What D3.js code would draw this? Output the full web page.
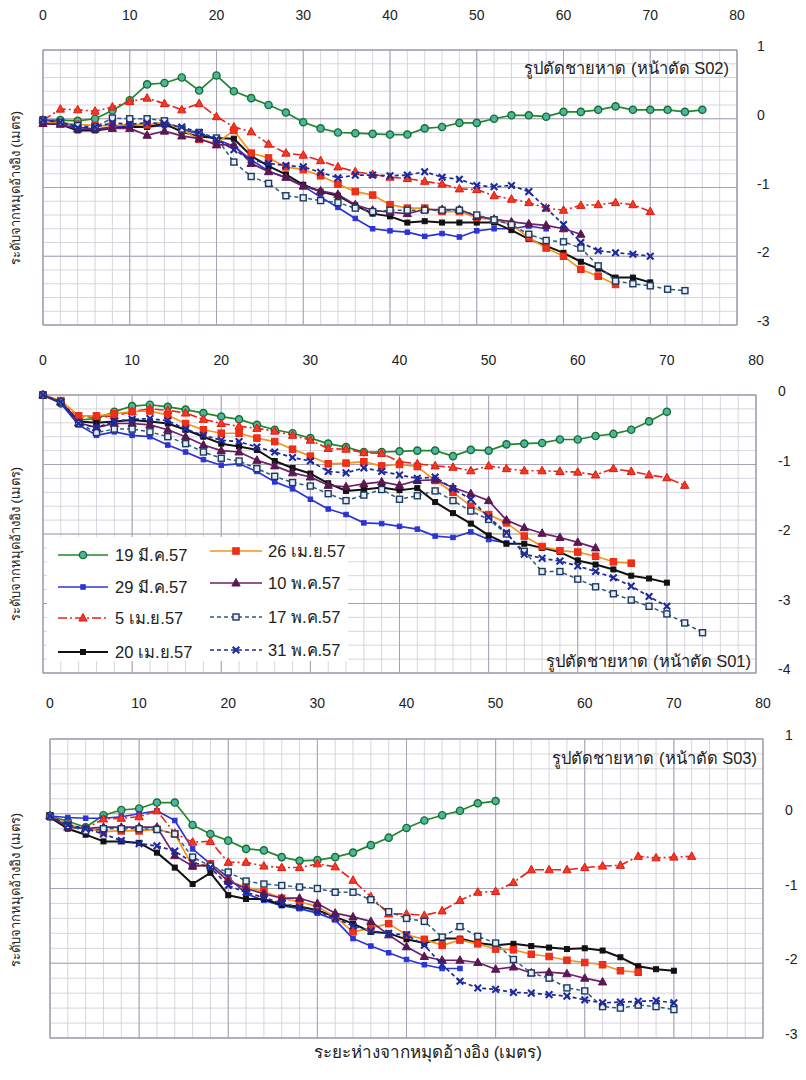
<!DOCTYPE html>
<html><head><meta charset="utf-8">
<script src="https://cdn.jsdelivr.net/npm/d3@7"></script>
<style>body{margin:0;background:#fff}text{font-family:"Liberation Sans",Arial,"Noto Sans",sans-serif}</style>
</head><body><svg id="c" width="806" height="1080"></svg>
<script>
// ---------------- DATA ----------------
const dist = [0,2,4,6,8,10,12,14,16,18,20,22,24,26,28,30,32,34,36,38,40,42,44,46,48,50,52,54,56,58,60,62,64,66,68,70,72,74,76];
const xTicks = [0,10,20,30,40,50,60,70,80];
const yTicksS02 = [1,0,-1,-2,-3];
const yTicksS01 = [0,-1,-2,-3,-4];
const yTicksS03 = [1,0,-1,-2,-3];
const seriesNames = ["19 มี.ค.57","29 มี.ค.57","5 เม.ย.57","20 เม.ย.57","26 เม.ย.57","10 พ.ค.57","17 พ.ค.57","31 พ.ค.57"];

// S02 profiles (elevation in m at each distance in dist)
const s02_19mar = [-0.02,-0.02,-0.03,0.0,0.12,0.27,0.5,0.52,0.6,0.41,0.63,0.4,0.3,0.2,0.09,-0.05,-0.14,-0.2,-0.21,-0.22,-0.23,-0.23,-0.14,-0.12,-0.06,-0.06,0.0,0.05,0.05,0.03,0.1,0.1,0.13,0.18,0.13,0.13,0.13,0.1,0.13];
const s02_29mar = [-0.02,-0.05,-0.12,-0.15,-0.12,-0.1,-0.12,-0.1,-0.15,-0.22,-0.3,-0.4,-0.6,-0.76,-0.86,-0.98,-1.14,-1.29,-1.45,-1.6,-1.63,-1.65,-1.71,-1.67,-1.72,-1.63,-1.6,-1.6,-1.56,-1.6];
const s02_05apr = [-0.02,0.14,0.13,0.11,0.17,0.25,0.3,0.22,0.13,0.22,0.03,-0.12,-0.19,-0.37,-0.5,-0.53,-0.61,-0.7,-0.77,-0.81,-0.85,-0.87,-0.91,-0.95,-1.02,-1.03,-1.12,-1.17,-1.22,-1.3,-1.33,-1.26,-1.25,-1.22,-1.25,-1.35];
const s02_20apr = [-0.07,-0.08,-0.17,-0.17,-0.14,-0.12,-0.12,-0.07,-0.19,-0.26,-0.28,-0.29,-0.54,-0.69,-0.81,-0.96,-1.06,-1.12,-1.26,-1.38,-1.42,-1.51,-1.49,-1.51,-1.51,-1.51,-1.51,-1.62,-1.75,-1.85,-1.95,-2.08,-2.18,-2.31,-2.31,-2.38];
const s02_26apr = [-0.05,-0.06,-0.08,-0.1,-0.1,-0.08,-0.09,-0.05,-0.16,-0.3,-0.36,-0.17,-0.5,-0.57,-0.7,-0.74,-0.83,-0.95,-1.06,-1.11,-1.25,-1.3,-1.3,-1.35,-1.35,-1.44,-1.47,-1.54,-1.73,-1.88,-2.0,-2.19,-2.29,-2.41];
const s02_10may = [-0.07,-0.08,-0.15,-0.15,-0.14,-0.14,-0.24,-0.18,-0.25,-0.29,-0.38,-0.38,-0.65,-0.77,-0.85,-0.98,-1.05,-1.1,-1.25,-1.33,-1.36,-1.38,-1.32,-1.32,-1.32,-1.42,-1.46,-1.5,-1.53,-1.55,-1.6,-1.68];
const s02_17may = [-0.02,-0.05,-0.1,-0.12,0.01,0.0,0.0,-0.03,-0.15,-0.2,-0.28,-0.63,-0.84,-0.94,-1.12,-1.15,-1.19,-1.22,-1.3,-1.35,-1.33,-1.33,-1.33,-1.33,-1.33,-1.4,-1.47,-1.54,-1.68,-1.77,-1.79,-1.88,-2.14,-2.36,-2.4,-2.43,-2.48,-2.5];
const s02_31may = [-0.02,-0.05,-0.13,-0.12,-0.06,-0.08,-0.06,-0.07,-0.12,-0.2,-0.3,-0.45,-0.6,-0.65,-0.68,-0.7,-0.78,-0.86,-0.82,-0.82,-0.83,-0.82,-0.77,-0.85,-0.88,-0.97,-0.99,-0.97,-1.06,-1.3,-1.54,-1.8,-1.92,-1.95,-1.97,-2.0];

// S01 profiles
const s01_19mar = [0,-0.12,-0.36,-0.34,-0.24,-0.16,-0.14,-0.17,-0.21,-0.26,-0.31,-0.35,-0.43,-0.5,-0.55,-0.62,-0.7,-0.75,-0.82,-0.82,-0.81,-0.8,-0.8,-0.88,-0.79,-0.8,-0.71,-0.7,-0.69,-0.64,-0.64,-0.59,-0.56,-0.5,-0.38,-0.24];
const s01_29mar = [0,-0.12,-0.43,-0.58,-0.53,-0.58,-0.6,-0.72,-0.82,-0.93,-1.01,-0.99,-1.1,-1.25,-1.35,-1.5,-1.64,-1.72,-1.84,-1.85,-1.89,-1.93,-2.03,-2.05,-1.97,-2.08,-2.13];
const s01_05apr = [0,-0.1,-0.31,-0.32,-0.3,-0.24,-0.2,-0.22,-0.26,-0.35,-0.41,-0.45,-0.48,-0.52,-0.58,-0.65,-0.77,-0.78,-0.83,-0.84,-0.96,-0.99,-1.02,-1.04,-1.09,-1.02,-1.06,-1.09,-1.09,-1.1,-1.11,-1.15,-1.06,-1.1,-1.15,-1.19,-1.3];
const s01_20apr = [0,-0.1,-0.38,-0.4,-0.38,-0.36,-0.38,-0.41,-0.5,-0.6,-0.7,-0.74,-0.79,-0.95,-1.05,-1.13,-1.27,-1.38,-1.36,-1.33,-1.37,-1.34,-1.54,-1.7,-1.85,-2.02,-2.14,-2.14,-2.2,-2.26,-2.38,-2.44,-2.51,-2.6,-2.64,-2.7];
const s01_26apr = [0,-0.08,-0.3,-0.3,-0.27,-0.24,-0.23,-0.29,-0.41,-0.5,-0.55,-0.55,-0.62,-0.67,-0.78,-0.88,-0.99,-0.98,-0.96,-1.02,-1.0,-1.03,-1.23,-1.4,-1.6,-1.72,-1.84,-2.03,-2.18,-2.24,-2.26,-2.32,-2.4,-2.42];
const s01_10may = [0,-0.1,-0.4,-0.47,-0.41,-0.41,-0.43,-0.5,-0.6,-0.72,-0.8,-0.82,-0.94,-1.02,-1.12,-1.18,-1.3,-1.32,-1.28,-1.25,-1.3,-1.23,-1.22,-1.33,-1.42,-1.52,-1.8,-1.91,-1.99,-2.05,-2.12,-2.2];
const s01_17may = [0,-0.1,-0.41,-0.54,-0.49,-0.49,-0.53,-0.6,-0.7,-0.82,-0.91,-0.95,-1.06,-1.17,-1.26,-1.31,-1.42,-1.52,-1.44,-1.36,-1.5,-1.45,-1.38,-1.52,-1.67,-1.79,-2.0,-2.25,-2.54,-2.54,-2.65,-2.76,-2.86,-2.95,-3.04,-3.15,-3.28,-3.42];
const s01_31may = [0,-0.1,-0.41,-0.47,-0.38,-0.35,-0.34,-0.37,-0.49,-0.58,-0.65,-0.67,-0.75,-0.82,-0.9,-0.95,-1.1,-1.12,-1.05,-1.1,-1.15,-1.2,-1.18,-1.35,-1.5,-1.76,-1.98,-2.29,-2.35,-2.39,-2.46,-2.54,-2.63,-2.75,-2.9,-3.04];

// S03 profiles
const s03_19mar = [-0.03,-0.1,-0.18,-0.02,0.05,0.07,0.15,0.15,-0.15,-0.27,-0.36,-0.47,-0.49,-0.58,-0.63,-0.62,-0.58,-0.52,-0.42,-0.32,-0.19,-0.09,-0.02,0.04,0.14,0.17];
const s03_29mar = [-0.03,-0.05,-0.06,-0.06,-0.04,0.0,0.04,-0.09,-0.47,-0.67,-0.85,-1.07,-1.16,-1.23,-1.27,-1.33,-1.42,-1.67,-1.77,-1.86,-1.95,-2.02,-2.07,-2.07];
const s03_05apr = [-0.03,-0.14,-0.2,-0.07,-0.06,-0.04,0.04,-0.26,-0.38,-0.37,-0.65,-0.65,-0.7,-0.72,-0.72,-0.67,-0.71,-0.89,-1.11,-1.34,-1.34,-1.36,-1.3,-1.16,-1.05,-1.04,-0.92,-0.75,-0.75,-0.75,-0.72,-0.7,-0.69,-0.57,-0.59,-0.58,-0.57];
const s03_20apr = [-0.05,-0.2,-0.28,-0.37,-0.37,-0.39,-0.52,-0.72,-0.94,-0.79,-1.09,-1.14,-1.14,-1.22,-1.24,-1.29,-1.38,-1.47,-1.58,-1.6,-1.68,-1.73,-1.67,-1.67,-1.73,-1.76,-1.74,-1.77,-1.79,-1.81,-1.8,-1.83,-1.92,-2.04,-2.08,-2.1];
const s03_26apr = [-0.03,-0.15,-0.2,-0.24,-0.23,-0.23,-0.21,-0.27,-0.7,-0.67,-0.9,-0.98,-1.04,-1.13,-1.18,-1.24,-1.38,-1.58,-1.53,-1.47,-1.62,-1.68,-1.76,-1.69,-1.74,-1.81,-1.82,-1.88,-1.91,-1.96,-1.99,-2.02,-2.1,-2.12];
const s03_10may = [-0.03,-0.18,-0.2,-0.18,-0.18,-0.18,-0.18,-0.56,-0.7,-0.69,-0.9,-1.0,-1.07,-1.13,-1.13,-1.2,-1.33,-1.38,-1.44,-1.62,-1.78,-1.91,-1.96,-1.96,-1.99,-2.08,-2.05,-2.13,-2.12,-2.14,-2.2,-2.25];
const s03_17may = [-0.03,-0.16,-0.23,-0.2,-0.2,-0.2,-0.21,-0.27,-0.58,-0.7,-0.78,-0.9,-0.94,-0.96,-0.98,-1.0,-1.05,-1.05,-1.15,-1.31,-1.4,-1.44,-1.65,-1.51,-1.64,-1.73,-1.95,-2.13,-2.2,-2.33,-2.37,-2.58,-2.6,-2.56,-2.58,-2.62];
const s03_31may = [-0.03,-0.15,-0.2,-0.27,-0.36,-0.4,-0.43,-0.5,-0.65,-0.72,-0.96,-1.05,-1.12,-1.2,-1.25,-1.3,-1.4,-1.5,-1.57,-1.6,-1.62,-1.76,-2.02,-2.24,-2.33,-2.35,-2.39,-2.4,-2.42,-2.44,-2.49,-2.53,-2.52,-2.51,-2.5,-2.53];

// ---------------- STYLES ----------------
const styles = [
  {stroke:"#1f8a2c", w:1.7, dash:null,      marker:"circle",  mfill:"#4fb3a4", mstroke:"#16702a"},
  {stroke:"#2b35d6", w:1.7, dash:null,      marker:"square",  mfill:"#2b35d6", mstroke:"#2b35d6", ms:4.5},
  {stroke:"#e8231b", w:1.6, dash:"9,3,2,3", marker:"triangle",mfill:"#f03a25", mstroke:"#e01a10"},
  {stroke:"#111111", w:2.0, dash:null,      marker:"square",  mfill:"#111111", mstroke:"#111111", ms:5},
  {stroke:"#f5921c", w:1.7, dash:null,      marker:"square",  mfill:"#f0301a", mstroke:"#e82a10", ms:6.5},
  {stroke:"#6e1f6e", w:1.7, dash:null,      marker:"triangle",mfill:"#5a1850", mstroke:"#5a1850"},
  {stroke:"#2c5c7c", w:1.5, dash:"4,3",     marker:"hsquare", mfill:"#e6ecf4", mstroke:"#1d3a5c", ms:6},
  {stroke:"#1d2a9c", w:1.7, dash:"4,3",     marker:"cross",   mfill:"#1d2a9c", mstroke:"#1d2a9c"}
];

const panels = [
  {series:[s02_19mar,s02_29mar,s02_05apr,s02_20apr,s02_26apr,s02_10may,s02_17may,s02_31may], yTicks:yTicksS02,
   x0:43, x1:737, y0:50, y1:325, xlabY:20, ylabX:757, title:"รูปตัดชายหาด (หน้าตัด S02)", tx:729, ty:74, ytc:188},
  {series:[s01_19mar,s01_29mar,s01_05apr,s01_20apr,s01_26apr,s01_10may,s01_17may,s01_31may], yTicks:yTicksS01,
   x0:43, x1:756, y0:395, y1:673, xlabY:365, ylabX:778, title:"รูปตัดชายหาด (หน้าตัด S01)", tx:751, ty:667, ytc:544, legend:true},
  {series:[s03_19mar,s03_29mar,s03_05apr,s03_20apr,s03_26apr,s03_10may,s03_17may,s03_31may], yTicks:yTicksS03,
   x0:50, x1:763, y0:739, y1:1038, xlabY:708, ylabX:785, title:"รูปตัดชายหาด (หน้าตัด S03)", tx:757, ty:764, ytc:890}
];

const svg = d3.select("#c");
svg.append("rect").attr("width",806).attr("height",1080).attr("fill","#fff");

function marker(g, st, x, y) {
  const s = st.ms || 6;
  if (st.marker === "circle") {
    g.append("circle").attr("cx",x).attr("cy",y).attr("r",3.6).attr("fill",st.mfill).attr("stroke",st.mstroke).attr("stroke-width",1.4);
  } else if (st.marker === "square" || st.marker === "hsquare") {
    g.append("rect").attr("x",x-s/2).attr("y",y-s/2).attr("width",s).attr("height",s)
      .attr("fill",st.mfill).attr("stroke",st.mstroke).attr("stroke-width",st.marker==="hsquare"?1.4:1);
  } else if (st.marker === "triangle") {
    const h = 7.5;
    g.append("path").attr("d",`M${x},${y-h*0.6}L${x+h*0.55},${y+h*0.4}L${x-h*0.55},${y+h*0.4}Z`)
      .attr("fill",st.mfill).attr("stroke",st.mstroke).attr("stroke-width",1);
  } else if (st.marker === "cross") {
    const r = 3.3;
    g.append("path").attr("d",`M${x-r},${y-r}L${x+r},${y+r}M${x-r},${y+r}L${x+r},${y-r}`)
      .attr("stroke",st.mstroke).attr("stroke-width",2.1);
  }
}

panels.forEach(p => {
  const xs = d3.scaleLinear().domain([0,80]).range([p.x0,p.x1]);
  const yd = [d3.max(p.yTicks), d3.min(p.yTicks)];
  const ys = d3.scaleLinear().domain(yd).range([p.y0,p.y1]);
  const g = svg.append("g");

  // grid
  const minorX = d3.range(0,80.01,2), minorY = d3.range(yd[1], yd[0]+0.001, 0.2);
  g.selectAll(null).data(minorX).enter().append("line")
    .attr("x1",d=>xs(d)).attr("x2",d=>xs(d)).attr("y1",p.y0).attr("y2",p.y1)
    .attr("stroke","#d3d0db").attr("stroke-width",0.9);
  g.selectAll(null).data(minorY).enter().append("line")
    .attr("y1",d=>ys(d)).attr("y2",d=>ys(d)).attr("x1",p.x0).attr("x2",p.x1)
    .attr("stroke","#d3d0db").attr("stroke-width",0.9);
  g.selectAll(null).data(xTicks).enter().append("line")
    .attr("x1",d=>xs(d)).attr("x2",d=>xs(d)).attr("y1",p.y0).attr("y2",p.y1)
    .attr("stroke","#a7a2b4").attr("stroke-width",1);
  g.selectAll(null).data(p.yTicks).enter().append("line")
    .attr("y1",d=>ys(d)).attr("y2",d=>ys(d)).attr("x1",p.x0).attr("x2",p.x1)
    .attr("stroke","#a7a2b4").attr("stroke-width",1);
  g.append("rect").attr("x",p.x0).attr("y",p.y0).attr("width",p.x1-p.x0).attr("height",p.y1-p.y0)
    .attr("fill","none").attr("stroke","#9d99a9").attr("stroke-width",1);

  // x tick labels (top)
  svg.append("g").selectAll(null).data(xTicks).enter().append("text")
    .attr("x",d=>xs(d)).attr("y",p.xlabY).attr("text-anchor","middle")
    .attr("font-size",14).attr("fill","#222").text(d=>d);
  // y tick labels (right)
  svg.append("g").selectAll(null).data(p.yTicks).enter().append("text")
    .attr("x",p.ylabX).attr("y",d=>ys(d)+1).attr("text-anchor","start")
    .attr("font-size",14).attr("fill","#222").text(d=>String(d));

  // y title
  svg.append("text").attr("transform",`translate(20,${p.ytc}) rotate(-90)`).attr("text-anchor","middle")
    .attr("font-size",13).attr("fill","#222").text("ระดับจากหมุดอ้างอิง (เมตร)");

  // legend background (panel S01)
  if (p.legend) {
    svg.append("rect").attr("x",47).attr("y",537).attr("width",301).attr("height",124).attr("fill","#fff");
  }

  // series
  const line = d3.line().x(d=>xs(d[0])).y(d=>ys(d[1]));
  p.series.forEach((vals, si) => {
    const st = styles[si];
    const pts = vals.map((v,i)=>[dist[i], v]);
    const sg = svg.append("g");
    sg.append("path").attr("d",line(pts)).attr("fill","none").attr("stroke",st.stroke)
      .attr("stroke-width",st.w).attr("stroke-dasharray",st.dash).attr("stroke-linejoin","round");
    pts.forEach(d => marker(sg, st, xs(d[0]), ys(d[1])));
  });

  // title
  svg.append("text").attr("x",p.tx).attr("y",p.ty).attr("text-anchor","end").attr("font-size",16.5)
    .attr("fill","#222").text(p.title);

  // legend entries
  if (p.legend) {
    const lx = [[58,108,115],[210,262,268]];
    const ly = [[555,587,618,652],[551,583,617,650]];
    seriesNames.forEach((name, i) => {
      const c = Math.floor(i/4), r = i%4;
      const st = styles[i];
      const y = ly[c][r];
      const lg = svg.append("g");
      lg.append("line").attr("x1",lx[c][0]).attr("x2",lx[c][1]).attr("y1",y).attr("y2",y)
        .attr("stroke",st.stroke).attr("stroke-width",st.w).attr("stroke-dasharray",st.dash);
      marker(lg, st, (lx[c][0]+lx[c][1])/2, y);
      lg.append("text").attr("x",lx[c][2]).attr("y",y+6).attr("font-size",16.5).attr("fill","#222").text(name);
    });
  }
});

// x title
svg.append("text").attr("x",428).attr("y",1058).attr("text-anchor","middle").attr("font-size",17)
  .attr("fill","#222").text("ระยะห่างจากหมุดอ้างอิง (เมตร)");
</script></body></html>
